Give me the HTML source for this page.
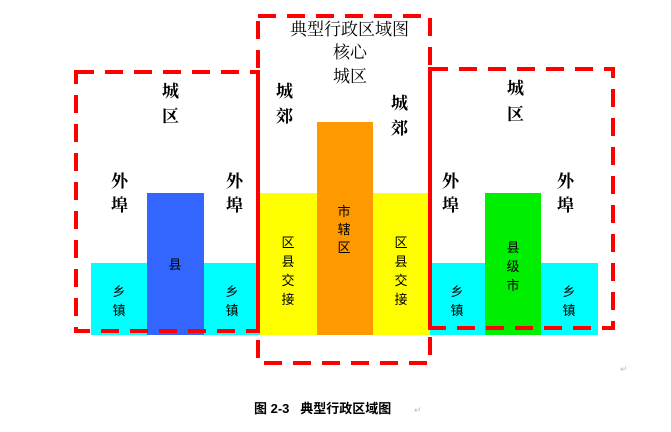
<!DOCTYPE html>
<html><head><meta charset="utf-8"><style>
html,body{margin:0;padding:0;background:#fff;}
svg{display:block;}
.t{font-family:"Liberation Serif","Noto Serif CJK SC",serif;font-size:17px;font-weight:bold;fill:#000;}
.s{font-family:"Liberation Sans","Noto Sans CJK SC",sans-serif;font-size:13px;fill:#000;}
.r{fill:#bbb;font-size:9px;font-family:"Liberation Sans",sans-serif;}
</style></head><body>
<svg width="671" height="432" viewBox="0 0 671 432" xmlns="http://www.w3.org/2000/svg">
<rect x="91" y="263" width="56" height="72" fill="#00ffff"/>
<rect x="147" y="193" width="57" height="142" fill="#3366ff"/>
<rect x="204" y="263" width="56" height="72" fill="#00ffff"/>
<rect x="260" y="193" width="57" height="142" fill="#ffff00"/>
<rect x="317" y="122" width="56" height="213" fill="#ff9900"/>
<rect x="373" y="193" width="57" height="142" fill="#ffff00"/>
<rect x="430" y="263" width="55" height="72" fill="#00ffff"/>
<rect x="485" y="193" width="56" height="142" fill="#00ee00"/>
<rect x="541" y="263" width="57" height="72" fill="#00ffff"/>
<g fill="none" stroke="#ff0000" stroke-width="4" stroke-dasharray="18,11">
<rect x="76" y="72" width="182" height="259"/>
<rect x="258" y="16" width="172" height="347"/>
<rect x="430" y="69" width="183" height="259"/>
</g>
<text class="t" x="290" y="35" style="font-weight:normal">典型行政区域图</text>
<text class="t" x="333" y="58" style="font-weight:normal">核心</text>
<text class="t" x="333" y="82" style="font-weight:normal">城区</text>
<text class="t" x="162" y="97">城</text><text class="t" x="162" y="122">区</text>
<text class="t" x="111" y="187">外</text><text class="t" x="111" y="211">埠</text>
<text class="t" x="226" y="187">外</text><text class="t" x="226" y="211">埠</text>
<text class="t" x="276" y="97">城</text><text class="t" x="276" y="122">郊</text>
<text class="t" x="391" y="109">城</text><text class="t" x="391" y="134">郊</text>
<text class="t" x="507" y="94">城</text><text class="t" x="507" y="120">区</text>
<text class="t" x="442" y="187">外</text><text class="t" x="442" y="211">埠</text>
<text class="t" x="557" y="187">外</text><text class="t" x="557" y="211">埠</text>
<g class="s" text-anchor="middle">
<text x="119" y="296">乡</text><text x="119" y="315">镇</text>
<text x="175" y="269">县</text>
<text x="232" y="296">乡</text><text x="232" y="315">镇</text>
<text x="288" y="247">区</text><text x="288" y="266">县</text><text x="288" y="285">交</text><text x="288" y="304">接</text>
<text x="344" y="216">市</text><text x="344" y="234">辖</text><text x="344" y="252">区</text>
<text x="401" y="247">区</text><text x="401" y="266">县</text><text x="401" y="285">交</text><text x="401" y="304">接</text>
<text x="457" y="296">乡</text><text x="457" y="315">镇</text>
<text x="513" y="252">县</text><text x="513" y="271">级</text><text x="513" y="290">市</text>
<text x="569" y="296">乡</text><text x="569" y="315">镇</text>
</g>
<text x="620" y="372" class="r">↵</text>
<text x="254" y="413" font-family="Liberation Sans,'Noto Sans CJK SC',sans-serif" font-size="13" font-weight="bold" xml:space="preserve">图 2-3   典型行政区域图</text>
<text x="414" y="413" class="r">↵</text>
</svg>
</body></html>
